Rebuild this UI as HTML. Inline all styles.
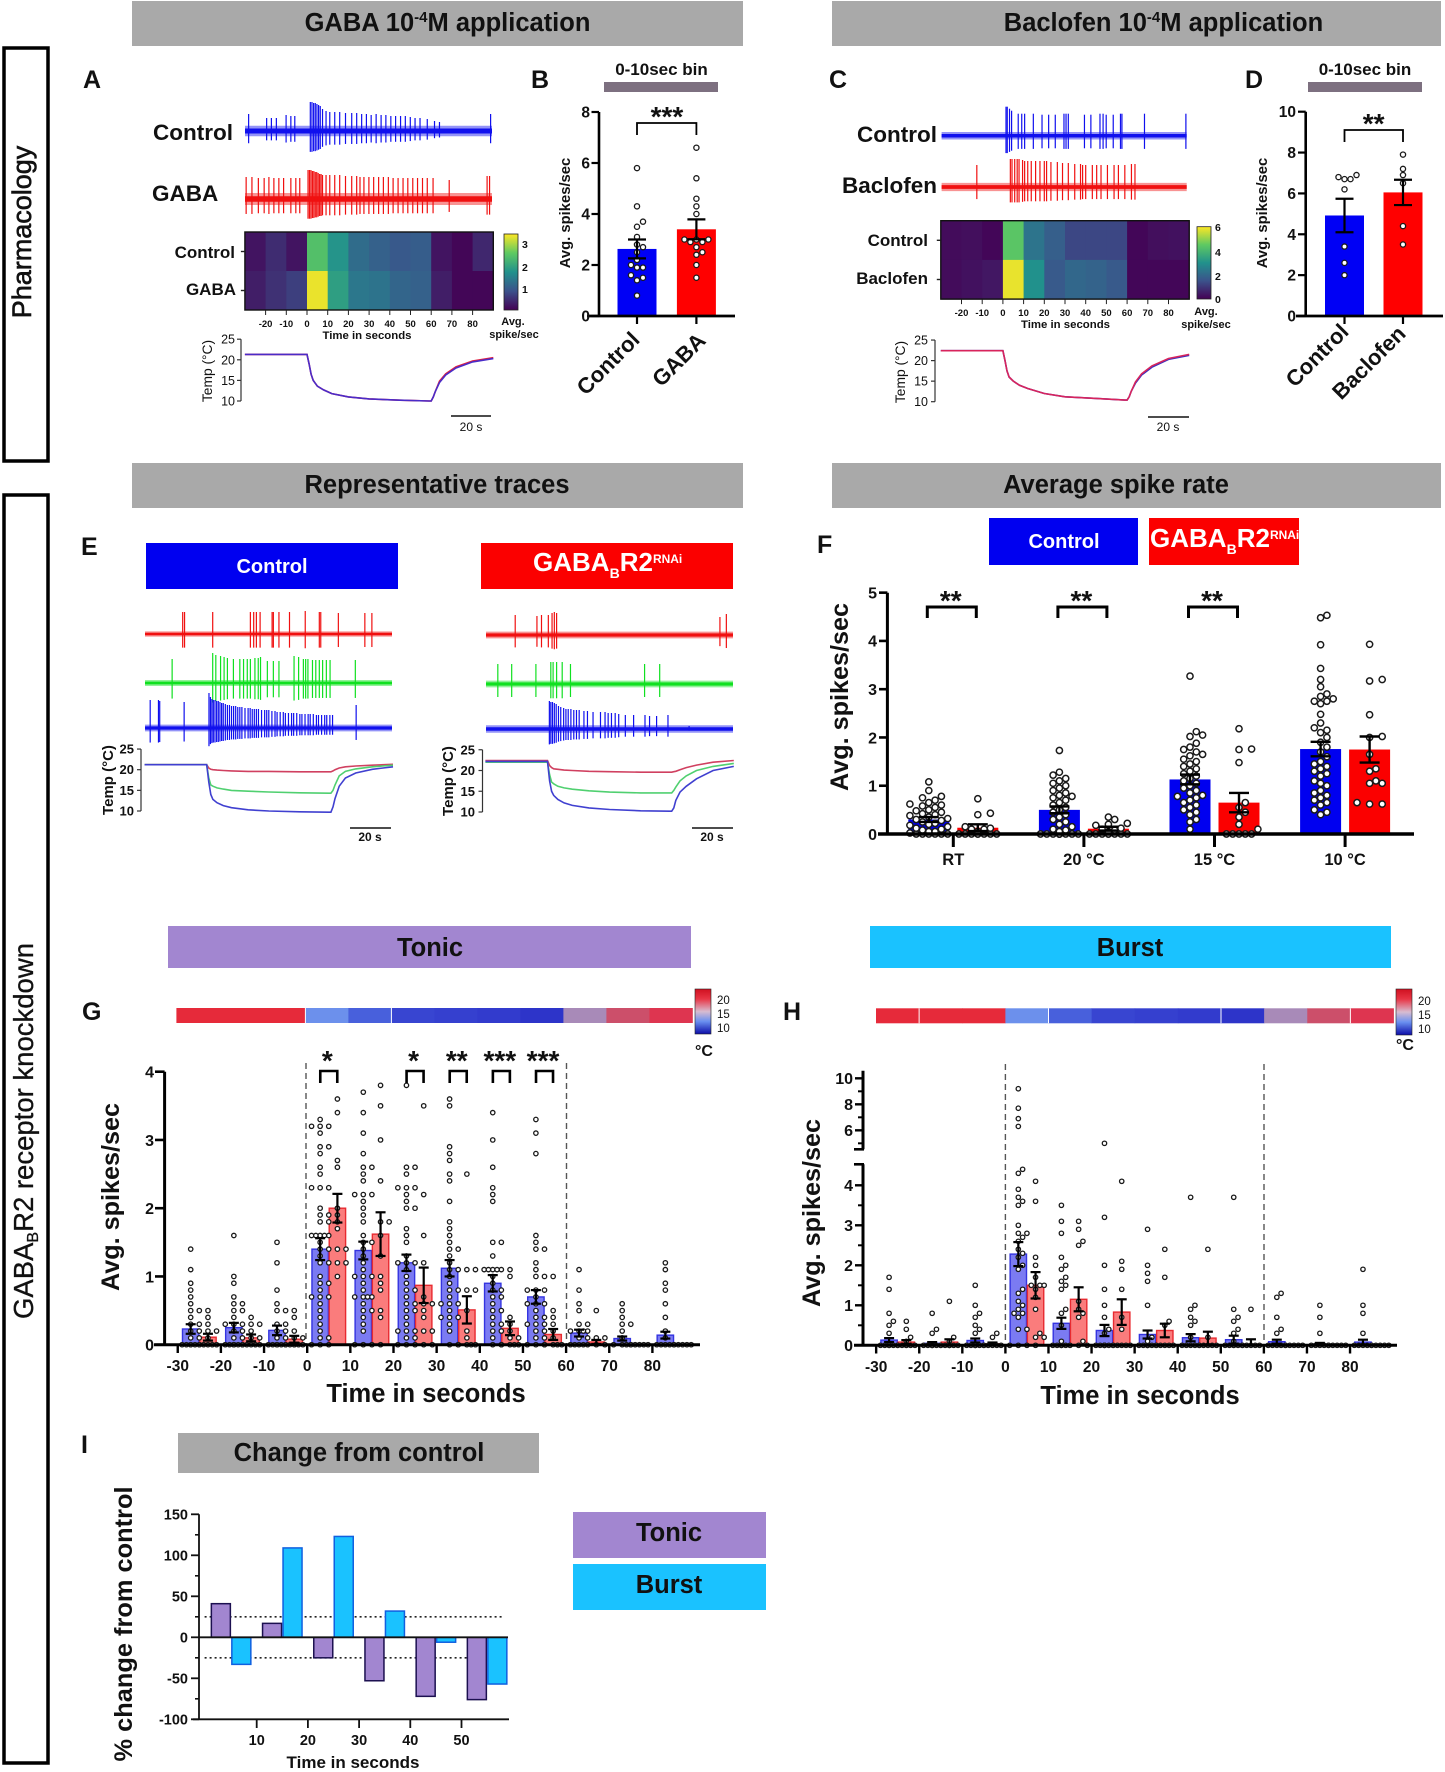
<!DOCTYPE html>
<html lang="en">
<head>
<meta charset="utf-8">
<title>GABA-B receptor figure</title>
<style>
html,body{margin:0;padding:0;background:#fff;}
svg{display:block;font-family:"Liberation Sans",Arial,sans-serif;}
text{fill:#111;}
.b{font-weight:bold;}
.w{fill:#fff;}
</style>
</head>
<body>
<svg id="fig" xmlns="http://www.w3.org/2000/svg" width="1445" height="1772" viewBox="0 0 1445 1772">
<defs>
<linearGradient id="viridis" x1="0" y1="1" x2="0" y2="0">
<stop offset="0" stop-color="#440154"/><stop offset=".25" stop-color="#3b528b"/><stop offset=".5" stop-color="#21918c"/><stop offset=".75" stop-color="#5ec962"/><stop offset="1" stop-color="#fde725"/>
</linearGradient>
<linearGradient id="tempbar" x1="0" y1="0" x2="0" y2="1">
<stop offset="0" stop-color="#d01020"/><stop offset=".22" stop-color="#e83545"/><stop offset=".5" stop-color="#d8bcd0"/><stop offset=".72" stop-color="#6a90f0"/><stop offset="1" stop-color="#0c0ca8"/>
</linearGradient>
</defs>
<rect width="1445" height="1772" fill="#fff"/>

<rect x="4" y="48" width="44" height="413" fill="none" stroke="#000" stroke-width="3.5"/>
<text x="31" y="232" font-size="27" text-anchor="middle" stroke="#111" stroke-width=".6" transform="rotate(-90 31 232)">Pharmacology</text>
<rect x="4" y="495" width="44" height="1268" fill="none" stroke="#000" stroke-width="3.5"/>
<text x="33" y="1131" font-size="27.5" text-anchor="middle" stroke="#111" stroke-width=".3" transform="rotate(-90 33 1131)">GABA<tspan font-size="16" dy="5">B</tspan><tspan dy="-5">R2 receptor knockdown</tspan></text>

<rect x="132" y="1" width="611" height="45" fill="#a9a9a9"/>
<text class="b" x="447.5" y="31" font-size="25.5" text-anchor="middle">GABA 10<tspan font-size="15" dy="-9">-4</tspan><tspan dy="9">M application</tspan></text>
<rect x="832" y="1" width="609" height="45" fill="#a9a9a9"/>
<text class="b" x="1163.5" y="31" font-size="25.5" text-anchor="middle">Baclofen 10<tspan font-size="15" dy="-9">-4</tspan><tspan dy="9">M application</tspan></text>
<rect x="132" y="463" width="611" height="45" fill="#a9a9a9"/>
<text class="b" x="437" y="493" font-size="25.5" text-anchor="middle">Representative traces</text>
<rect x="832" y="463" width="609" height="45" fill="#a9a9a9"/>
<text class="b" x="1116" y="493" font-size="25.5" text-anchor="middle">Average spike rate</text>

<text class="b" x="83" y="88" font-size="25">A</text>
<text class="b" x="531" y="88" font-size="25">B</text>
<text class="b" x="829" y="88" font-size="25">C</text>
<text class="b" x="1245" y="88" font-size="25">D</text>
<text class="b" x="81" y="555" font-size="25">E</text>
<text class="b" x="817" y="553" font-size="25">F</text>
<text class="b" x="82" y="1020" font-size="25">G</text>
<text class="b" x="783" y="1020" font-size="25">H</text>
<text class="b" x="81" y="1453" font-size="25">I</text>

<text class="b" x="153" y="140" font-size="22.5">Control</text>
<text class="b" x="152" y="201" font-size="22.5">GABA</text>
<text class="b" x="235" y="258" font-size="17" text-anchor="end">Control</text>
<text class="b" x="236" y="295" font-size="17" text-anchor="end">GABA</text>
<text class="b" x="367" y="339" font-size="11.4" text-anchor="middle">Time in seconds</text>
<text class="b" x="513" y="325" font-size="11" text-anchor="middle">Avg.</text>
<text class="b" x="514" y="338" font-size="11" text-anchor="middle">spike/sec</text>
<text x="212" y="371" font-size="13.8" text-anchor="middle" transform="rotate(-90 212 371)">Temp (°C)</text>
<line x1="451" y1="416" x2="491" y2="416" stroke="#111" stroke-width="1.5"/>
<text x="471" y="431" font-size="12" text-anchor="middle">20 s</text>
<text class="b" x="661.5" y="75" font-size="17" text-anchor="middle">0-10sec bin</text>
<rect x="604" y="82" width="114" height="10" fill="#7d7080"/>
<text class="b" x="570" y="213" font-size="14.8" text-anchor="middle" transform="rotate(-90 570 213)">Avg. spikes/sec</text>
<text class="b" x="641" y="341" font-size="22" text-anchor="end" transform="rotate(-45 641 341)">Control</text>
<text class="b" x="707" y="342" font-size="22" text-anchor="end" transform="rotate(-45 707 342)">GABA</text>

<text class="b" x="857" y="142" font-size="22.5">Control</text>
<text class="b" x="842" y="193" font-size="22.5">Baclofen</text>
<text class="b" x="928" y="246" font-size="17" text-anchor="end">Control</text>
<text class="b" x="928" y="284" font-size="17" text-anchor="end">Baclofen</text>
<text class="b" x="1065.5" y="328" font-size="11.4" text-anchor="middle">Time in seconds</text>
<text class="b" x="1206" y="315" font-size="11" text-anchor="middle">Avg.</text>
<text class="b" x="1206" y="328" font-size="11" text-anchor="middle">spike/sec</text>
<text x="905" y="372" font-size="13.8" text-anchor="middle" transform="rotate(-90 905 372)">Temp (°C)</text>
<line x1="1148" y1="417" x2="1189" y2="417" stroke="#111" stroke-width="1.5"/>
<text x="1168" y="431" font-size="12" text-anchor="middle">20 s</text>
<text class="b" x="1365" y="75" font-size="17" text-anchor="middle">0-10sec bin</text>
<rect x="1308" y="82" width="114" height="10" fill="#7d7080"/>
<text class="b" x="1267" y="213" font-size="14.8" text-anchor="middle" transform="rotate(-90 1267 213)">Avg. spikes/sec</text>
<text class="b" x="1350" y="333" font-size="22" text-anchor="end" transform="rotate(-45 1350 333)">Control</text>
<text class="b" x="1407" y="335" font-size="22" text-anchor="end" transform="rotate(-45 1407 335)">Baclofen</text>

<rect x="146" y="543" width="252" height="46" fill="#0000f0"/>
<text class="b w" x="272" y="573" font-size="20" text-anchor="middle">Control</text>
<rect x="481" y="543" width="252" height="46" fill="#fb0000"/>
<text class="b w" x="533" y="571" font-size="26">GABA<tspan font-size="14" dy="7">B</tspan><tspan dy="-7">R2</tspan><tspan font-size="12" dy="-8">RNAi</tspan></text>
<text class="b" x="113" y="780" font-size="15" text-anchor="middle" transform="rotate(-90 113 780)">Temp (°C)</text>
<text class="b" x="453" y="781" font-size="15" text-anchor="middle" transform="rotate(-90 453 781)">Temp (°C)</text>
<line x1="350" y1="828" x2="391" y2="828" stroke="#111" stroke-width="1.5"/>
<text class="b" x="370" y="841" font-size="12" text-anchor="middle">20 s</text>
<line x1="692" y1="828" x2="733" y2="828" stroke="#111" stroke-width="1.5"/>
<text class="b" x="712" y="841" font-size="12" text-anchor="middle">20 s</text>

<rect x="989" y="518" width="149" height="47" fill="#0000f0"/>
<text class="b w" x="1064" y="548" font-size="20" text-anchor="middle">Control</text>
<rect x="1149" y="518" width="150" height="47" fill="#fb0000"/>
<text class="b w" x="1150" y="547" font-size="26">GABA<tspan font-size="14" dy="7">B</tspan><tspan dy="-7">R2</tspan><tspan font-size="12" dy="-8">RNAi</tspan></text>
<text class="b" x="848" y="697" font-size="25.2" text-anchor="middle" transform="rotate(-90 848 697)">Avg. spikes/sec</text>

<rect x="168" y="926" width="523" height="42" fill="#a286d0"/>
<text class="b" x="430" y="956" font-size="25.5" text-anchor="middle">Tonic</text>
<rect x="870" y="926" width="521" height="42" fill="#1ac2ff"/>
<text class="b" x="1130" y="956" font-size="25.5" text-anchor="middle">Burst</text>

<rect x="695" y="989" width="16" height="45" fill="url(#tempbar)" stroke="#222" stroke-width=".6"/>
<text x="717" y="1004" font-size="11.5">20</text>
<text x="717" y="1018" font-size="11.5">15</text>
<text x="717" y="1032" font-size="11.5">10</text>
<text class="b" x="704" y="1056" font-size="16" text-anchor="middle">°C</text>
<text class="b" x="119" y="1197" font-size="25.2" text-anchor="middle" transform="rotate(-90 119 1197)">Avg. spikes/sec</text>
<text class="b" x="426" y="1402" font-size="25.5" text-anchor="middle">Time in seconds</text>

<rect x="1396" y="989" width="16" height="46" fill="url(#tempbar)" stroke="#222" stroke-width=".6"/>
<text x="1418" y="1005" font-size="11.5">20</text>
<text x="1418" y="1019" font-size="11.5">15</text>
<text x="1418" y="1033" font-size="11.5">10</text>
<text class="b" x="1405" y="1050" font-size="16" text-anchor="middle">°C</text>
<text class="b" x="820" y="1213" font-size="25.2" text-anchor="middle" transform="rotate(-90 820 1213)">Avg. spikes/sec</text>
<text class="b" x="1140" y="1404" font-size="25.5" text-anchor="middle">Time in seconds</text>

<rect x="178" y="1433" width="361" height="40" fill="#a9a9a9"/>
<text class="b" x="359" y="1461" font-size="25.5" text-anchor="middle">Change from control</text>
<text class="b" x="132" y="1624" font-size="25.4" text-anchor="middle" transform="rotate(-90 132 1624)">% change from control</text>
<text class="b" x="353" y="1768" font-size="17" text-anchor="middle">Time in seconds</text>
<rect x="573" y="1512" width="193" height="46" fill="#a286d0"/>
<text class="b" x="669" y="1541" font-size="25.5" text-anchor="middle">Tonic</text>
<rect x="573" y="1564" width="193" height="46" fill="#1ac2ff"/>
<text class="b" x="669" y="1593" font-size="25.5" text-anchor="middle">Burst</text>

<g id="dyn"></g>
</svg>
<script>
/* ---------- DATA ---------- */
const heatBins=[-30,-20,-10,0,10,20,30,40,50,60,70,80];
const heatTicks=[-20,-10,0,10,20,30,40,50,60,70,80];
const aHeatControl=[0.2,0.45,0.2,2.4,1.75,1.2,1.05,0.95,1.0,0.2,0.05,0.4];
const aHeatGaba=[0.3,0.5,0.65,3.3,1.9,1.35,1.3,1.1,1.05,0.3,0.05,0.05];
const cHeatControl=[0.2,0.25,0.1,4.4,2.3,1.8,1.3,1.3,1.3,0.1,0.25,0.3];
const cHeatBaclofen=[0.2,0.3,0.4,5.8,3.0,1.7,2.0,1.9,1.7,0.1,0.1,0.1];

const aCtrlSpikes=[-28.2,-19.5,-17.2,-14.8,-10.1,-7.8,-5.9,1.6,2.4,3.2,4,4.8,5.6,6.4,7.5,9.2,11,13.4,15.8,18.6,21.6,24,26.4,28.7,31,33.4,35.8,38.1,40.5,42.8,45.2,47.5,49.9,52.2,54.6,58.1,61.6,64,88.7];
const aCtrlAmps=[17,13,13,13,16,15,15,29,29,28,28,27,26,25,22,20,19,19,19,18,18,18,17,17,16,17,16,16,15,15,15,15,14,13,13,12,10,9,17];
const aGabaSpikes=[-29.4,-26.6,-23.5,-20.7,-18.4,-16,-13.6,-11.3,-7.8,-5.4,-3.5,0.5,1.2,1.9,2.6,3.3,4,4.7,5.4,6.1,6.8,7.5,9.2,11,13.4,15.8,18.6,21.6,24,25.6,27.5,29.9,32.2,34.6,36.9,39.3,41.6,44,46.4,48.7,51.1,53.4,55.8,58.1,60.9,68.7,87,88.2];
const aGabaAmps=[22,22,21,21,22,21,21,21,21,21,21,29,29,29,28,28,27,27,26,25,25,24,24,24,24,24,23,23,23,22,22,22,22,22,22,22,21,21,21,21,21,21,21,21,21,19,23,23];
const cCtrlSpikes=[1.5,2.1,3.2,4.2,7.4,9.1,10.5,14.7,18.9,22.1,25.3,29.5,30.5,31.6,39.4,42.5,46.9,48.4,49.9,53.3,56.8,57.5,68.4,88.4];
const cCtrlAmps=[29,29,27,25,22,22,22,22,21,21,21,22,22,22,21,21,22,22,21,21,22,22,22,22];
const cBacSpikes=[-12.6,3.6,4.4,5.7,6.9,7.8,9.5,10.5,12,13.7,15.8,17.9,20,21.1,23.2,26.3,28.8,31.6,34.7,37.5,38.5,40,43.2,45.3,47.4,50.5,53.7,55.8,58.9,62.1,63.8];
const cBacAmps=[22,28,28,28,28,28,27,26,26,26,26,26,26,26,25,25,24,24,23,23,22,22,22,22,22,22,22,22,22,23,23];

const eL_redSpikes=[-11.6,-10.7,2.9,21.1,22.7,24,25.8,31.6,32.2,34.9,40,47.6,54.4,55.1,63.6,76.4,79.8];
const eL_redAmps=[22,22,22,22,22,22,22,22,22,22,22,23,22,22,21,21,21];
const eL_greenSpikes=[-16.7,2.9,4.4,6.7,8.4,10,12.9,16,17.8,19.6,21.1,23.3,24.9,26,29.3,32.2,34.9,42.2,44.4,46.7,47.8,48.9,51.1,52.7,54.4,56,57.8,59.6,71.8];
const eL_greenAmps=[24,30,28,27,26,25,24,24,24,24,24,25,25,26,22,22,22,27,26,24,24,24,23,23,23,23,23,23,23];
const eL_blueSpikes=[-27.3,-23.3,-22.7,-10.9,1.1,1.8,2.5,3.2,4,4.8,5.6,6.4,7.2,8,9,10,11,12,13,14,15,16,17,18.5,20,21,22,23,24,25,26.5,28,29,30,31.5,33,34,35.5,37,38,39.5,41,42,43.5,45,46,47.5,49,50,51.5,53,54,55.5,57,58,59.5,60.8,72.2];
const eL_blueAmps=[28,28,27,26,35,31,29,28,28,27,27,26,25,25,24,23,23,22,22,22,21,21,21,20,20,20,19,19,19,19,18,18,18,18,17,17,16,16,16,15,15,15,15,15,14,14,14,14,14,14,13,13,13,13,13,13,13,23];
const eR_redSpikes=[-15.6,-5.1,-2.9,0.4,2.2,3.3,4.4,83.3,86.4];
const eR_redAmps=[20,19,20,20,22,23,22,18,21];
const eR_greenSpikes=[-24,-17.3,-5.6,1.6,2.7,4.4,7.1,11.1,46.9,54.2];
const eR_greenAmps=[20,20,20,22,22,22,22,20,20,20];
const eR_blueSpikes=[0.9,1.6,2.4,3.3,4.2,5.3,6.4,7.8,8.9,10,11.3,12.7,14,15.3,17.6,19.3,22,25.6,27.8,29.3,30.9,32.7,34.4,37.6,41.6,47.1,49.3,52.7,58.2,68.4];
const eR_blueAmps=[28,27,27,26,25,23,22,21,20,20,20,19,19,19,18,18,17,17,17,16,16,16,15,14,14,14,13,13,14,3];

const tempTimes=[-30,-1,0,1,2,3,5,8,12,20,30,45,59,60,61,62,64,67,72,80,90];
const tempTicks=[10,15,20,25];
const aTempCtrl=[21.3,21.3,21.3,19,16.5,15,13.6,12.7,11.8,11,10.5,10.2,10,10,11,12.3,14.5,16.3,18,19.5,20.3];
const aTempGaba=[21.3,21.3,21.3,19,16.5,15,13.6,12.7,11.8,11,10.5,10.2,10,10,11,12.3,14.8,16.6,18.3,19.7,20.5];
const cTempCtrl=[22.4,22.4,22.4,20,17.5,16,15,14,13.2,12,11.2,10.8,10.4,10.4,11.2,12.5,14.5,16.5,18.4,20.3,21.3];
const cTempBac=[22.4,22.4,22.4,20,17.5,16,15,14,13.2,12,11.2,10.8,10.4,10.4,11.2,12.5,14.8,16.8,18.7,20.5,21.5];
const eLTempRed=[21.2,21.2,21.2,20.4,20.1,20,19.9,19.8,19.7,19.6,19.6,19.5,19.5,19.5,19.7,20,20.4,20.7,20.9,21.1,21.3];
const eLTempGreen=[21.2,21.2,21.2,18,16.3,16,15.6,15.3,15,14.8,14.6,14.4,14.3,14.3,15,16.3,18.5,19.6,20.2,20.7,21.1];
const eLTempBlue=[21.2,21.2,21.2,17,14,12.8,12,11.3,10.8,10.3,10,9.8,9.7,9.7,11,13,16,18,19.2,20.1,20.7];
const eRTempRed=[22.4,22.4,22.4,21.2,20.7,20.4,20.3,20.1,20,19.8,19.7,19.6,19.6,19.6,19.7,19.8,20.2,20.7,21.3,22,22.4];
const eRTempGreen=[22,22,22,19,17.2,16.8,16.2,15.8,15.5,15.1,14.8,14.6,14.6,14.6,15.2,16,17.5,18.7,20,21,21.7];
const eRTempBlue=[22.2,22.2,22.2,17.5,15,14,13,12.2,11.6,11,10.6,10.3,10.2,10.2,11,12.8,14.8,16.2,18,20,21];

const bTicks=[0,2,4,6,8];
const bMeans=[2.63,3.4];
const bSem=[0.37,0.39];
const bControlPts=[5.8,4.3,3.7,3.5,3.1,2.8,2.7,2.5,2.2,2.0,1.9,1.9,1.6,1.5,1.4,0.8];
const bGabaPts=[6.6,5.4,4.6,4.3,4.0,3.0,3.0,3.0,2.9,2.9,2.7,2.5,2.4,2.0,1.5];
const dTicks=[0,2,4,6,8,10];
const dMeans=[4.92,6.05];
const dSem=[0.82,0.62];
const dControlPts=[6.9,6.8,6.7,6.7,6.2,3.4,2.6,2.0];
const dBacPts=[7.9,7.2,6.9,6.5,4.4,3.5];

const fCats=['RT','20 °C','15 °C','10 °C'];
const fTicks=[0,1,2,3,4,5];
const fControlMeans=[0.3,0.5,1.13,1.76];
const fRnaiMeans=[0.13,0.11,0.65,1.75];
const fControlSem=[0.05,0.07,0.1,0.15];
const fRnaiSem=[0.07,0.04,0.2,0.27];
const fControlPts=[
[1.08,0.9,0.78,0.75,0.7,0.65,0.62,0.6,0.58,0.55,0.5,0.48,0.45,0.42,0.4,0.38,0.35,0.32,0.3,0.28,0.25,0.22,0.2,0.18,0.15,0.12,0.1,0.08,0.05,0.05,0.02,0,0,0,0,0,0],
[1.73,1.28,1.22,1.15,1.1,1.05,1.0,0.95,0.9,0.85,0.8,0.78,0.75,0.7,0.65,0.6,0.55,0.5,0.45,0.4,0.35,0.3,0.25,0.2,0.15,0.1,0.08,0.05,0,0,0,0,0,0,0,0,0,0],
[3.27,2.12,2.05,2.02,1.88,1.8,1.75,1.7,1.65,1.62,1.55,1.5,1.45,1.4,1.35,1.3,1.25,1.2,1.15,1.1,1.05,1,0.95,0.9,0.85,0.8,0.78,0.75,0.7,0.65,0.6,0.55,0.5,0.45,0.4,0.3,0.25,0.1],
[4.53,4.48,3.92,3.43,3.2,3.05,2.9,2.85,2.8,2.75,2.75,2.7,2.48,2.3,2.2,2.15,2.1,2.0,1.9,1.8,1.7,1.6,1.5,1.45,1.4,1.35,1.3,1.25,1.2,1.1,1.05,1.0,0.9,0.85,0.8,0.75,0.7,0.65,0.6,0.5,0.45,0.4]];
const fRnaiPts=[
[0.73,0.43,0.4,0.15,0.12,0.1,0.1,0.05,0,0,0,0,0,0,0,0],
[0.35,0.3,0.22,0.2,0.18,0.12,0.1,0.08,0.05,0,0,0,0,0,0,0,0],
[2.18,1.76,1.75,1.48,0.65,0.55,0.45,0.35,0.2,0.1,0,0,0,0,0],
[3.93,3.2,3.17,2.47,2.02,2.0,1.65,1.35,1.3,1.1,1.05,1.05,0.65,0.62,0.62]];

const binStarts=[-30,-20,-10,0,10,20,30,40,50,60,70,80];
const xTicks=[-30,-20,-10,0,10,20,30,40,50,60,70,80];
const stripTemps=[21.3,21.3,21.3,14.5,12,11,10.8,10.6,10.3,15.5,18.5,19.8];
const gTicks=[0,1,2,3,4];
const gCtrlMeans=[0.23,0.25,0.21,1.4,1.38,1.2,1.12,0.9,0.7,0.17,0.09,0.14];
const gRnaiMeans=[0.11,0.1,0.08,2.0,1.62,0.87,0.51,0.24,0.15,0.04,0,0];
const gCtrlSem=[0.07,0.07,0.07,0.16,0.13,0.12,0.12,0.12,0.1,0.05,0.03,0.05];
const gRnaiSem=[0.05,0.05,0.05,0.21,0.32,0.26,0.2,0.1,0.08,0.03,0,0];
const gCtrlPts=[
[1.4,1.1,0.9,0.8,0.7,0.6,0.5,0.5,0.4,0.3,0.3,0.2,0.2,0.1,0.1,0,0,0,0,0,0],
[1.6,1,0.9,0.7,0.6,0.6,0.5,0.5,0.4,0.3,0.3,0.3,0.2,0.2,0.1,0.1,0,0,0,0,0,0,0,0],
[1.5,1.2,0.8,0.6,0.5,0.5,0.3,0.3,0.2,0.2,0.1,0.1,0,0,0,0,0,0,0,0],
[3.3,3.2,3.2,3.2,3.1,2.9,2.9,2.8,2.6,2.5,2.3,2.3,2.3,2,1.9,1.9,1.8,1.8,1.6,1.6,1.6,1.6,1.6,1.5,1.4,1.4,1.3,1.2,1.2,1,0.9,0.9,0.8,0.7,0.7,0.7,0.6,0.5,0.4,0.3,0.2,0.1,0.1,0,0,0],
[3.7,3.4,3.1,2.8,2.6,2.6,2.5,2.4,2.2,2.2,2.2,2.1,2,1.9,1.8,1.6,1.5,1.5,1.4,1.3,1.2,1.1,1,1,1,0.9,0.8,0.7,0.7,0.7,0.7,0.6,0.5,0.5,0.4,0.3,0.2,0,0,0],
[3.8,2.6,2.6,2.5,2.3,2.3,2.3,2.2,2.1,2,2,1.7,1.6,1.5,1.3,1.2,1.2,1.2,1.1,1,0.9,0.8,0.8,0.7,0.6,0.6,0.5,0.5,0.4,0.3,0.2,0.2,0.2,0.1,0.1,0,0,0],
[3.6,3.5,2.9,2.8,2.7,2.5,2.4,2.1,1.8,1.7,1.6,1.5,1.4,1.4,1.3,1.2,1.1,1.1,1,0.9,0.8,0.8,0.7,0.6,0.6,0.6,0.5,0.4,0.4,0.4,0.3,0.2,0,0],
[3.4,3,2.6,2.3,2.2,2.1,1.5,1.5,1.3,1.1,1.1,1.1,1.1,1.1,1,0.9,0.8,0.8,0.7,0.7,0.6,0.5,0.5,0.4,0.3,0.3,0.2,0.2,0.1,0,0],
[3.3,3.1,2.8,1.6,1.5,1.4,1.4,1.2,1.1,1,1,0.8,0.8,0.8,0.7,0.6,0.6,0.6,0.5,0.4,0.4,0.3,0.3,0.3,0.2,0.2,0.1,0.1,0,0,0],
[1.1,0.8,0.6,0.5,0.3,0.3,0.2,0.2,0.2,0.2,0.1,0.1,0,0,0,0,0],
[0.6,0.5,0.4,0.3,0.3,0.2,0.1,0,0,0,0],
[1.2,1.1,0.9,0.8,0.6,0.4,0.2,0.1,0,0,0,0,0]];
const gRnaiPts=[
[0.5,0.4,0.3,0.2,0.2,0.1,0,0,0,0,0],
[0.4,0.3,0.3,0.2,0.1,0.1,0,0,0,0,0],
[0.5,0.4,0.2,0.1,0.1,0,0,0,0,0,0],
[3.6,3.4,2.7,2.6,2,1.9,1.8,1.7,1.4,1.4,1.2,1.2,1],
[3.8,3.5,3,2.4,1.8,1.8,1.6,1.3,1,0.9,0.8,0.5,0.4,0],
[3.5,2.2,1.6,1.2,0.7,0.6,0.6,0.5,0.4,0.2,0.2,0,0],
[2.5,1.1,1.1,0.8,0.8,0.5,0.2,0.1,0,0,0,0],
[1.1,1,0.4,0.3,0.2,0.1,0.1,0,0,0,0],
[1,0.5,0.4,0.3,0.2,0.1,0,0,0,0],
[0.5,0.1,0.1,0,0],
[0,0,0,0,0],
[0,0,0,0,0]];
const gSigBins=[0,20,30,40,50];
const gSigStars=['*','*','**','***','***'];

const hTicksLow=[0,1,2,3,4];
const hTicksHigh=[6,8,10];
const hCtrlMeans=[0.13,0.05,0.12,2.28,0.55,0.37,0.27,0.19,0.14,0.09,0.03,0.08];
const hRnaiMeans=[0.08,0.08,0.04,1.5,1.15,0.83,0.37,0.18,0.03,0,0,0];
const hCtrlSem=[0.05,0.03,0.05,0.3,0.14,0.14,0.1,0.09,0.1,0.05,0.03,0.06];
const hRnaiSem=[0.05,0.07,0.03,0.33,0.3,0.32,0.17,0.16,0.12,0,0,0];
const hCtrlPts=[
[1.7,1.4,0.8,0.6,0.5,0.3,0,0,0,0,0,0],
[0.8,0.4,0.3,0,0,0,0,0,0,0,0],
[1.5,1,0.8,0.7,0.5,0.4,0.3,0,0,0,0,0,0,0,0],
[9.2,7.7,6.9,6.3,4.4,4.3,3.9,3.7,3.6,3.5,3,2.8,2.8,2.7,2.6,2.4,2.3,2.2,2,1.9,1.4,1.3,1.1,1,0.9,0.8,0.8,0.7,0.4,0.4,0,0,0],
[3.5,3.1,2.8,2.2,2,1.9,1.7,1.6,1.5,1.4,0.9,0.8,0.5,0.1,0,0,0,0,0,0,0],
[5,3.2,2,1.4,1,0.7,0.4,0.3,0,0,0,0,0,0,0,0],
[2.9,2,1.8,1.6,1,0.2,0.1,0,0,0,0,0,0,0,0],
[3.7,1,0.9,0.7,0.6,0.5,0.2,0,0,0,0,0],
[3.7,0.9,0.7,0.6,0.4,0.3,0.1,0,0,0,0,0,0],
[1.3,1.2,0.7,0.4,0.3,0,0,0,0,0],
[1,0.7,0.3,0,0,0,0,0],
[1.9,1,0.8,0.3,0,0,0,0,0]];
const hRnaiPts=[
[0.6,0.4,0.2,0.1,0,0,0,0,0,0],
[1.1,0.2,0.1,0,0,0,0,0,0,0,0],
[0.3,0.2,0,0,0,0,0],
[4.1,3.6,2.2,2,1.7,1.5,1.5,1.5,1.4,1.2,0.9,0.3,0.2,0.2,0],
[3.1,2.9,2.6,2.5,1.1,0.9,0.8,0.7,0.1,0,0],
[4.1,2.1,1.9,1.4,0.7,0.4,0,0,0,0,0],
[2.4,1.7,0.6,0.5,0,0,0,0,0],
[2.4,0.2,0,0,0,0,0],
[0.9,0,0,0,0,0],
[0,0,0,0,0],
[0,0,0,0,0],
[0,0,0,0,0]];

const iBins=[0,10,20,30,40,50];
const iTonic=[41,17,-25,-53,-72,-76];
const iBurst=[-33,109,123,32,-6,-57];
const iTicks=[-100,-50,0,50,100,150];
const iMinor=[-75,-25,25,75,125];
const iXTicks=[10,20,30,40,50];
const iThresholds=[25,-25];

/* ---------- HELPERS ---------- */
const NS='http://www.w3.org/2000/svg';
const root=document.getElementById('dyn');
function mk(tag,attrs){
  const el=document.createElementNS(NS,tag);
  for(const k in attrs){el.setAttribute(k,attrs[k]);}
  root.appendChild(el);
  return el;
}
function line(x1,y1,x2,y2,col,w,name){
  const el=mk('line',{x1,y1,x2,y2,stroke:col,'stroke-width':w});
  
  
  return el;
}
function label(str,x,y,size,anchor,bold,name){
  const el=mk('text',{x,y,'font-size':size,'text-anchor':anchor});
  if(bold){el.setAttribute('class','b');}
  el.textContent=str;
  
  
  return el;
}
function box(x,y,w,h,fill,stroke,sw,name){
  const el=mk('rect',{x,y,width:w,height:h,fill});
  if(stroke){el.setAttribute('stroke',stroke);el.setAttribute('stroke-width',sw);}
  
  
  return el;
}
const viridisStops=[[68,1,84],[59,82,139],[33,145,140],[94,201,98],[253,231,37]];
function viridis(f){
  f=Math.max(0,Math.min(1,f))*4;
  const i=Math.min(3,Math.floor(f)),t=f-i,a=viridisStops[i],b=viridisStops[i+1];
  return 'rgb('+a.map((c,j)=>Math.round(c+(b[j]-c)*t)).join(',')+')';
}
const tempStops=[[9,[28,28,184]],[10.5,[48,56,204]],[12,[72,96,220]],[14.5,[108,144,236]],[15.5,[168,138,184]],[18.5,[204,79,106]],[19.8,[222,53,80]],[21.3,[230,42,58]]];
function tempColor(v){
  for(let i=0;i<tempStops.length-1;i++){
    const a=tempStops[i],b=tempStops[i+1];
    if(v<=b[0]){
      const t=Math.max(0,(v-a[0])/(b[0]-a[0]));
      return 'rgb('+a[1].map((c,j)=>Math.round(c+(b[1][j]-c)*t)).join(',')+')';
    }
  }
  return 'rgb(230,42,58)';
}
function drawTrace(times,amps,x0,pps,xa,xb,yc,band,ratio,col,name){
  line(xa,yc,xb,yc,col,band*1.5,name+'-noise-band').setAttribute('stroke-opacity','.45');
  line(xa,yc,xb,yc,col,band*.7,name+'-baseline');
  times.forEach((t,i)=>{
    const x=x0+pps*t;
    line(x,yc-amps[i],x,yc+amps[i]*ratio,col,1.2,name+'-spike');
  });
}
function drawHeat(rows,x0,pps,top,rowH,vmax,name){
  rows.forEach((row,r)=>{
    row.forEach((v,i)=>{
      box(x0+pps*heatBins[i],top+r*rowH,pps*10+.5,rowH+.5,viridis(v/vmax),null,0,name+'-cell');
    });
  });
  const w=pps*120;
  const el=box(x0+pps*-30,top,w,rowH*2,'none','#111',1.4,name+'-frame');
  heatTicks.forEach(t=>{
    const x=x0+pps*t;
    line(x,top+rowH*2,x,top+rowH*2+5,'#222',1,name+'-tick');
    label(String(t),x,top+rowH*2+17,9.5,'middle',true,name+'-tick-label');
  });
  for(let r=0;r<2;r++){
    line(x0+pps*-30-4,top+rowH*(r+.5),x0+pps*-30,top+rowH*(r+.5),'#222',1.4,name+'-row-tick');
  }
}
function drawTemp(series,cols,x0,pps,tickSet,yFn,axisX,labelX,bold,name){
  const yT=yFn(25),yB=yFn(10);
  line(axisX,yT,axisX,yB,'#333',1.2,name+'-axis');
  tickSet.forEach(v=>{
    line(axisX-4,yFn(v),axisX,yFn(v),'#333',1.2,name+'-tick');
    label(String(v),labelX,yFn(v)+4.5,bold?13:12.5,'end',bold,name+'-tick-label');
  });
  series.forEach((s,j)=>{
    const pts=s.map((v,i)=>(x0+pps*tempTimes[i]).toFixed(1)+','+yFn(v).toFixed(1)).join(' ');
    const el=mk('polyline',{points:pts,fill:'none',stroke:cols[j],'stroke-width':1.6});
    
    
  });
}
function swarm(vals,yFn,step,dmin,cap){
  const placed=[];
  const count=Math.floor(cap/step)*2+1;
  vals.slice().sort((a,b)=>a-b).forEach(v=>{
    const y=yFn(v);
    let best=0,bestD=-1,done=false;
    for(let k=0;k<count&&!done;k++){
      const off=k===0?0:(k%2?(k+1)/2*step:-(k/2)*step);
      const d=placed.length?Math.min(...placed.map(p=>Math.hypot(p.o-off,p.y-y))):1e9;
      if(d>=dmin){best=off;done=true;}
      else if(d>bestD){bestD=d;best=off;}
    }
    placed.push({o:best,y});
  });
  return placed;
}
function drawPoints(vals,cx,yFn,step,dmin,cap,r,sw,name){
  swarm(vals,yFn,step,dmin,cap).forEach(p=>{
    const el=mk('circle',{cx:cx+p.o,cy:p.y,r,fill:'#fff',stroke:'#1a1a1a','stroke-width':sw});
    
    
  });
}
function drawErr(cx,mean,sem,yFn,cap,sw,name){
  if(!sem){return;}
  const hi=yFn(mean+sem),lo=yFn(Math.max(0,mean-sem));
  line(cx,hi,cx,lo,'#000',sw,name);
  line(cx-cap,hi,cx+cap,hi,'#000',sw,name+'-cap');
  line(cx-cap,lo,cx+cap,lo,'#000',sw,name+'-cap');
}
function bracket(x1,x2,top,bot,sw,name){
  const el=mk('polyline',{points:x1+','+bot+' '+x1+','+top+' '+x2+','+top+' '+x2+','+bot,fill:'none',stroke:'#000','stroke-width':sw});
  
  
}
function stars(str,x,cy,name){
  label(str,x,cy+16,28,'middle',true,name);
}

/* ---------- PANEL A ---------- */
drawTrace(aCtrlSpikes,aCtrlAmps,307,2.07,245,492,131,7,0.72,'#1010ee','a-control-trace');
drawTrace(aGabaSpikes,aGabaAmps,307,2.07,245,492,199,8,0.68,'#f01010','a-gaba-trace');
drawHeat([aHeatControl,aHeatGaba],307,2.07,232,39,3.4,'a-heatmap');
box(504,234,14,76,'url(#viridis)','#222',.8,'a-colorbar');
[[3,244],[2,267],[1,289]].forEach(p=>{label(String(p[0]),522,p[1]+4,10.5,'start',true,'a-colorbar-tick');});
const yTempA=v=>401-(v-10)*4.12;
drawTemp([aTempGaba,aTempCtrl],['#e02040','#4a2cc8'],307,2.07,tempTicks,yTempA,241,235,false,'a-temp');

/* ---------- PANEL B ---------- */
const yB=v=>316-v*25.5;
const bColors=['#0000f5','#ff0000'];
const bX=[637,696.4];
bMeans.forEach((m,i)=>{box(bX[i]-19.5,yB(m),39,316-yB(m),bColors[i],null,0,'b-bar');});
drawPoints(bControlPts,bX[0],yB,6,5.6,14,2.6,1.3,'b-control-point');
drawPoints(bGabaPts,bX[1],yB,6,5.6,14,2.6,1.3,'b-gaba-point');
bMeans.forEach((m,i)=>{drawErr(bX[i],m,bSem[i],yB,9,2.2,'b-error');});
line(599,112,599,316,'#000',2.6,'b-y-axis');
line(587,316,735,316,'#000',2.8,'b-x-axis');
bTicks.forEach(v=>{line(591.5,yB(v),599,yB(v),'#000',2.2,'b-y-tick');label(String(v),590,yB(v)+5.5,15.5,'end',true,'b-y-tick-label');});
bX.forEach(x=>{line(x,316,x,324,'#000',2.2,'b-x-tick');});
bracket(637,696.4,123,135,1.8,'b-sig-bracket');
stars('***',667,110,'b-sig-stars');

/* ---------- PANEL C ---------- */
drawTrace(cCtrlSpikes,cCtrlAmps,1002.9,2.07,941.6,1186.7,135.7,5,0.6,'#1010ee','c-control-trace');
drawTrace(cBacSpikes,cBacAmps,1002.9,2.07,941.6,1186.7,187,5.5,0.55,'#f01010','c-baclofen-trace');
drawHeat([cHeatControl,cHeatBaclofen],1002.9,2.07,220.7,39.2,6,'c-heatmap');
box(1197,226.7,14,72.3,'url(#viridis)','#222',.8,'c-colorbar');
[[6,227],[4,252],[2,276],[0,299]].forEach(p=>{label(String(p[0]),1215,p[1]+4,10.5,'start',true,'c-colorbar-tick');});
const yTempC=v=>401.7-(v-10)*4.11;
drawTemp([cTempCtrl,cTempBac],['#3a30c0','#d8245c'],1002.9,2.07,tempTicks,yTempC,935,928,false,'c-temp');

/* ---------- PANEL D ---------- */
const yD=v=>316-v*20.43;
const dX=[1344.5,1403];
dMeans.forEach((m,i)=>{box(dX[i]-19.5,yD(m),39,316-yD(m),bColors[i],null,0,'d-bar');});
drawPoints(dControlPts,dX[0],yD,6,5.6,14,2.6,1.3,'d-control-point');
drawPoints(dBacPts,dX[1],yD,6,5.6,14,2.6,1.3,'d-baclofen-point');
dMeans.forEach((m,i)=>{drawErr(dX[i],m,dSem[i],yD,9,2.2,'d-error');});
line(1305.7,111.7,1305.7,316,'#000',2.6,'d-y-axis');
line(1296,316,1443,316,'#000',2.8,'d-x-axis');
dTicks.forEach(v=>{line(1298,yD(v),1305.7,yD(v),'#000',2.2,'d-y-tick');label(String(v),1296,yD(v)+5.5,15.5,'end',true,'d-y-tick-label');});
dX.forEach(x=>{line(x,316,x,324,'#000',2.2,'d-x-tick');});
bracket(1344.5,1403,130,142,1.8,'d-sig-bracket');
stars('**',1373.6,117,'d-sig-stars');

/* ---------- PANEL E ---------- */
drawTrace(eL_redSpikes,eL_redAmps,206.7,2.07,145,392,634,3.5,0.62,'#f01010','e-left-red-trace');
drawTrace(eL_greenSpikes,eL_greenAmps,206.7,2.07,145,392,683,4,0.65,'#10e020','e-left-green-trace');
drawTrace(eL_blueSpikes,eL_blueAmps,206.7,2.07,145,392,728,4.5,0.52,'#1010ee','e-left-blue-trace');
drawTrace(eR_redSpikes,eR_redAmps,547.5,2.07,486,733,635,4.5,0.62,'#f01010','e-right-red-trace');
drawTrace(eR_greenSpikes,eR_greenAmps,547.5,2.07,486,733,684,4.5,0.65,'#10e020','e-right-green-trace');
drawTrace(eR_blueSpikes,eR_blueAmps,547.5,2.07,486,733,729,5,0.55,'#1010ee','e-right-blue-trace');
const yTempEL=v=>811-(v-10)*4.13;
const yTempER=v=>812-(v-10)*4.15;
const eCols=['#d04060','#50d070','#4040d0'];
drawTemp([eLTempRed,eLTempGreen,eLTempBlue],eCols,206.7,2.07,tempTicks,yTempEL,141,134,true,'e-left-temp');
drawTemp([eRTempRed,eRTempGreen,eRTempBlue],eCols,547.5,2.07,tempTicks,yTempER,482.5,475,true,'e-right-temp');

/* ---------- PANEL F ---------- */
const yF=v=>834-v*48.27;
const fXc=fCats.map((c,i)=>953.3+130.6*i);
fCats.forEach((c,i)=>{
  box(fXc[i]-45,yF(fControlMeans[i]),41,834-yF(fControlMeans[i]),'#0000f0',null,0,'f-control-bar');
  box(fXc[i]+4,yF(fRnaiMeans[i]),41,834-yF(fRnaiMeans[i]),'#fb0000',null,0,'f-rnai-bar');
});
fCats.forEach((c,i)=>{
  drawPoints(fControlPts[i],fXc[i]-24.5,yF,6.3,6.6,19.5,3.1,1.5,'f-control-point');
  drawPoints(fRnaiPts[i],fXc[i]+24.5,yF,6.3,6.6,19.5,3.1,1.5,'f-rnai-point');
  drawErr(fXc[i]-24.5,fControlMeans[i],fControlSem[i],yF,10,2.4,'f-control-error');
  drawErr(fXc[i]+24.5,fRnaiMeans[i],fRnaiSem[i],yF,10,2.4,'f-rnai-error');
  line(fXc[i],834,fXc[i],847,'#000',3,'f-x-tick');
  label(c,fXc[i],865,16.5,'middle',true,'f-x-tick-label');
});
line(887.4,592.7,887.4,834,'#000',3,'f-y-axis');
line(878,834,1414,834,'#000',3.4,'f-x-axis');
fTicks.forEach(v=>{line(879,yF(v),887.4,yF(v),'#000',2.6,'f-y-tick');label(String(v),877,yF(v)+5.8,16,'end',true,'f-y-tick-label');});
[0,1,2].forEach(i=>{
  bracket(fXc[i]-26,fXc[i]+23,607,618,3,'f-sig-bracket');
  stars('**',fXc[i]-2.5,594,'f-sig-stars');
});

/* ---------- PANELS G / H ---------- */
function drawStrip(x0,w,top,h,gaps,name){
  const bw=w/stripTemps.length;
  stripTemps.forEach((t,i)=>{box(x0+i*bw,top,bw+.4,h,tempColor(t),null,0,name+'-cell');});
  gaps.forEach(i=>{line(x0+i*bw,top,x0+i*bw,top+h,'#fff',1,name+'-separator');});
}
function drawBinned(x0,pps,yFn,cM,rM,cS,rS,cP,rP,name){
  binStarts.forEach((t,i)=>{
    const xc=x0+pps*(t+3),xr=x0+pps*(t+7),w=pps*3.8,base=yFn(0);
    if(cM[i]>0){box(xc-w/2,yFn(cM[i]),w,base-yFn(cM[i]),'#7b7bf2','#3434e0',1.4,name+'-control-bar');}
    if(rM[i]>0){box(xr-w/2,yFn(rM[i]),w,base-yFn(rM[i]),'#fa7c7c','#e82a30',1.4,name+'-rnai-bar');}
  });
  binStarts.forEach((t,i)=>{
    const xc=x0+pps*(t+3),xr=x0+pps*(t+7);
    drawPoints(cP[i],xc,yFn,4.3,4.4,8.7,2.2,1.3,name+'-control-point');
    drawPoints(rP[i],xr,yFn,4.3,4.4,8.7,2.2,1.3,name+'-rnai-point');
    drawErr(xc,cM[i],cS[i],yFn,5,2.2,name+'-control-error');
    drawErr(xr,rM[i],rS[i],yFn,5,2.2,name+'-rnai-error');
  });
}
const yG=v=>1344.7-v*68.25;
const xG0=307.2,xGs=4.315;
drawStrip(176.4,516,1008,15,[3,5],'g-temp-strip');
line(306,1063,306,1345,'#555',1.4,'g-stim-on-line').setAttribute('stroke-dasharray','6 4');
line(566.5,1063,566.5,1345,'#555',1.4,'g-stim-off-line').setAttribute('stroke-dasharray','6 4');
drawBinned(xG0,xGs,yG,gCtrlMeans,gRnaiMeans,gCtrlSem,gRnaiSem,gCtrlPts,gRnaiPts,'g');
line(164.6,1071.7,164.6,1344.7,'#000',3,'g-y-axis');
line(154,1344.7,700,1344.7,'#000',3,'g-x-axis');
gTicks.forEach(v=>{line(155,yG(v),164.6,yG(v),'#000',2.6,'g-y-tick');label(String(v),154,yG(v)+5.8,16,'end',true,'g-y-tick-label');});
xTicks.forEach(t=>{const x=xG0+xGs*t;line(x,1344.7,x,1353,'#000',2.4,'g-x-tick');label(String(t),x,1371,15.5,'middle',true,'g-x-tick-label');});
gSigBins.forEach((t,i)=>{
  const xc=xG0+xGs*(t+5);
  bracket(xc-8.5,xc+8.5,1071,1083,2.6,'g-sig-bracket');
  stars(gSigStars[i],xc-1.5,1054,'g-sig-stars');
});

const yH=v=>v<=4.5?1345.3-v*40:1149.3-(v-4.54)*13;
const xH0=1005.4,xHs=4.308;
drawStrip(876,517.5,1008.3,15,[1,4,8,11],'h-temp-strip');
line(1005.4,1064,1005.4,1345,'#555',1.4,'h-stim-on-line').setAttribute('stroke-dasharray','6 4');
line(1264,1064,1264,1345,'#555',1.4,'h-stim-off-line').setAttribute('stroke-dasharray','6 4');
drawBinned(xH0,xHs,yH,hCtrlMeans,hRnaiMeans,hCtrlSem,hRnaiSem,hCtrlPts,hRnaiPts,'h');
line(863,1164.3,863,1345.3,'#000',3,'h-y-axis-lower');
line(863,1070.7,863,1149.3,'#000',3,'h-y-axis-upper');
line(854,1345.3,1397,1345.3,'#000',3,'h-x-axis');
line(854,1164.3,864,1164.3,'#000',2.6,'h-axis-break-top');
line(854,1149.3,864,1149.3,'#000',2.6,'h-axis-break-bottom');
hTicksLow.forEach(v=>{
  line(855,yH(v),863,yH(v),'#000',2.4,'h-y-tick');
  label(String(v),853,yH(v)+5.8,16,'end',true,'h-y-tick-label');
  if(v<4){line(858,yH(v+.5),863,yH(v+.5),'#000',2,'h-y-minor-tick');}
});
hTicksHigh.forEach(v=>{
  line(855,yH(v),863,yH(v),'#000',2.4,'h-y-tick');
  label(String(v),853,yH(v)+5.8,16,'end',true,'h-y-tick-label');
  line(858,yH(v-1),863,yH(v-1),'#000',2,'h-y-minor-tick');
});
xTicks.forEach(t=>{const x=xH0+xHs*t;line(x,1345.3,x,1353.5,'#000',2.4,'h-x-tick');label(String(t),x,1372,15.5,'middle',true,'h-x-tick-label');});

/* ---------- PANEL I ---------- */
const yI=v=>1637.3-v*0.82;
const xI=t=>205.5+5.12*t;
iThresholds.forEach(v=>{line(204.6,yI(v),503.6,yI(v),'#222',1.6,'i-threshold-line').setAttribute('stroke-dasharray','2 3');});
iBins.forEach((t,i)=>{
  const a=iTonic[i],b=iBurst[i];
  box(xI(t+3)-9.5,Math.min(yI(a),yI(0)),19,Math.abs(yI(a)-yI(0)),'#a286d0','#1c1050',1.5,'i-tonic-bar');
  box(xI(t+7)-9.5,Math.min(yI(b),yI(0)),19,Math.abs(yI(b)-yI(0)),'#1ac2ff','#1060e0',1.5,'i-burst-bar');
});
line(199,yI(150),199,yI(-100),'#111',1.8,'i-y-axis');
line(193,yI(-100),509,yI(-100),'#111',1.8,'i-x-axis');
line(199,yI(0),508,yI(0),'#111',1.8,'i-zero-line');
iTicks.forEach(v=>{line(191,yI(v),199,yI(v),'#111',1.8,'i-y-tick');label(String(v),188,yI(v)+5,14.5,'end',true,'i-y-tick-label');});
iMinor.forEach(v=>{line(195,yI(v),199,yI(v),'#111',1.6,'i-y-minor-tick');});
iXTicks.forEach(t=>{line(xI(t),yI(-100),xI(t),1728,'#111',1.8,'i-x-tick');label(String(t),xI(t),1745,14.5,'middle',true,'i-x-tick-label');});
</script>
</body>
</html>
